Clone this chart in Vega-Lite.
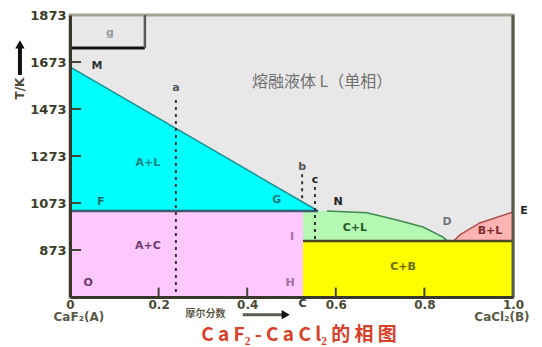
{
  "$schema": "https://vega.github.io/schema/vega-lite/v6.json",
  "width": 443,
  "height": 282,
  "autosize": {"type": "none"},
  "padding": {"left": 70, "top": 15, "right": 29, "bottom": 50},
  "background": "white",
  "config": {
    "view": {"fill": "#e8e8e8", "stroke": "#a3a38f", "strokeWidth": 3},
    "font": "DejaVu Sans"
  },
  "datasets": {
    "blocks": [
      {"region": "A+C", "x0": 0, "x1": 0.526, "t0": 673, "t1": 1039},
      {"region": "C+B", "x0": 0.526, "x1": 1, "t0": 673, "t1": 911}
    ],
    "curves": [
      {"region": "A+L", "x": 0, "top": 1652, "base": 1039},
      {"region": "A+L", "x": 0.56, "top": 1039, "base": 1039},
      {"region": "C+L", "x": 0.526, "top": 1039, "base": 911},
      {"region": "C+L", "x": 0.58, "top": 1039, "base": 911},
      {"region": "C+L", "x": 0.67, "top": 1031, "base": 911},
      {"region": "C+L", "x": 0.738, "top": 1001, "base": 911},
      {"region": "C+L", "x": 0.797, "top": 971, "base": 911},
      {"region": "C+L", "x": 0.842, "top": 928, "base": 911},
      {"region": "C+L", "x": 0.852, "top": 911, "base": 911},
      {"region": "B+L", "x": 0.866, "top": 911, "base": 911},
      {"region": "B+L", "x": 0.88, "top": 937, "base": 911},
      {"region": "B+L", "x": 0.925, "top": 988, "base": 911},
      {"region": "B+L", "x": 1, "top": 1035, "base": 911}
    ],
    "segments": [
      {"seg": "FGN", "x0": 0, "x1": 0.56, "t0": 1039, "t1": 1039},
      {"seg": "Dline", "x0": 0.526, "x1": 1, "t0": 911, "t1": 911},
      {"seg": "a", "x0": 0.239, "x1": 0.239, "t0": 1511, "t1": 673},
      {"seg": "b", "x0": 0.524, "x1": 0.524, "t0": 1195, "t1": 1080},
      {"seg": "c", "x0": 0.553, "x1": 0.553, "t0": 1141, "t1": 911},
      {"seg": "boxBottom", "x0": 0, "x1": 0.169, "t0": 1733, "t1": 1733},
      {"seg": "boxRight", "x0": 0.169, "x1": 0.169, "t0": 1733, "t1": 1873},
      {"seg": "right", "x0": 1, "x1": 1, "t0": 673, "t1": 1873},
      {"seg": "xArrow", "x0": 0.39, "x1": 0.48, "t0": 598, "t1": 598},
      {"seg": "yArrow", "x0": -0.113, "x1": -0.113, "t0": 1618, "t1": 1740},
      {"seg": "tick", "x0": 0.2, "x1": 0.2, "t0": 673, "t1": 713},
      {"seg": "tick", "x0": 0.4, "x1": 0.4, "t0": 673, "t1": 713},
      {"seg": "tick", "x0": 0.6, "x1": 0.6, "t0": 673, "t1": 713},
      {"seg": "tick", "x0": 0.8, "x1": 0.8, "t0": 673, "t1": 713},
      {"seg": "tick", "x0": 0, "x1": 0.025, "t0": 873, "t1": 873},
      {"seg": "tick", "x0": 0, "x1": 0.025, "t0": 1073, "t1": 1073},
      {"seg": "tick", "x0": 0, "x1": 0.025, "t0": 1273, "t1": 1273},
      {"seg": "tick", "x0": 0, "x1": 0.025, "t0": 1473, "t1": 1473},
      {"seg": "tick", "x0": 0, "x1": 0.025, "t0": 1673, "t1": 1673}
    ],
    "heads": [
      {"dir": "right", "x": 0.487, "t": 598},
      {"dir": "up", "x": -0.113, "t": 1748}
    ],
    "labels": [
      {"text": "M", "x": 0.061, "t": 1656},
      {"text": "A+L", "x": 0.176, "t": 1243},
      {"text": "F", "x": 0.07, "t": 1077},
      {"text": "G", "x": 0.467, "t": 1086},
      {"text": "N", "x": 0.605, "t": 1077},
      {"text": "a", "x": 0.239, "t": 1562},
      {"text": "b", "x": 0.524, "t": 1226},
      {"text": "c", "x": 0.553, "t": 1171},
      {"text": "A+C", "x": 0.176, "t": 890},
      {"text": "O", "x": 0.041, "t": 733},
      {"text": "I", "x": 0.501, "t": 928},
      {"text": "H", "x": 0.497, "t": 733},
      {"text": "C+L", "x": 0.643, "t": 967},
      {"text": "C+B", "x": 0.752, "t": 801},
      {"text": "D", "x": 0.851, "t": 992},
      {"text": "B+L", "x": 0.948, "t": 954},
      {"text": "E", "x": 1.025, "t": 1039},
      {"text": "g", "x": 0.09, "t": 1796},
      {"text": "C", "x": 0.525, "t": 645}
    ],
    "captions": [
      {"text": "CaF₂(A)", "x": 0.02, "t": 588},
      {"text": "CaCl₂(B)", "x": 0.975, "t": 588}
    ]
  },
  "resolve": {"scale": {"color": "independent"}},
  "layer": [
    {
      "data": {"name": "blocks"},
      "mark": {"type": "rect"},
      "encoding": {
        "x": {"field": "x0", "type": "quantitative",
          "scale": {"domain": [0, 1], "nice": false, "zero": false},
          "axis": {
            "values": [0, 0.2, 0.4, 0.6, 0.8, 1],
            "labelExpr": "datum.value == 0 ? '0' : format(datum.value, '.1f')",
            "title": null, "grid": false, "zindex": 1, "ticks": false,
            "domainColor": "#38382c", "domainWidth": 3,
            "labelPadding": 2, "labelFontSize": 12, "labelFontWeight": "bold",
            "labelColor": "#4a4a36", "labelFlush": false
          }},
        "x2": {"field": "x1"},
        "y": {"field": "t0", "type": "quantitative",
          "scale": {"domain": [673, 1873], "nice": false, "zero": false},
          "axis": {
            "values": [873, 1073, 1273, 1473, 1673, 1873],
            "format": "d",
            "title": null, "grid": false, "zindex": 1, "ticks": false,
            "domainColor": "#38382c", "domainWidth": 3,
            "labelPadding": 4, "labelFontSize": 13, "labelFontWeight": "bold",
            "labelColor": "#3b3b28", "labelFlush": false
          }},
        "y2": {"field": "t1"},
        "color": {"field": "region", "type": "nominal", "legend": null,
          "scale": {"domain": ["A+C", "C+B"], "range": ["#ffc8ff", "#ffff00"]}}
      }
    },
    {
      "data": {"name": "curves"},
      "mark": {"type": "area", "interpolate": "linear"},
      "encoding": {
        "x": {"field": "x", "type": "quantitative"},
        "y": {"field": "top", "type": "quantitative", "stack": null},
        "y2": {"field": "base"},
        "color": {"field": "region", "type": "nominal", "legend": null,
          "scale": {"domain": ["A+L", "C+L", "B+L"], "range": ["#00ffff", "#b4f8b4", "#ffb4b4"]}}
      }
    },
    {
      "data": {"name": "curves"},
      "transform": [{"filter": "datum.region == 'A+L'"}],
      "mark": {"type": "line", "color": "#1f8f8f", "strokeWidth": 1.5},
      "encoding": {
        "x": {"field": "x", "type": "quantitative"},
        "y": {"field": "top", "type": "quantitative"}
      }
    },
    {
      "data": {"name": "curves"},
      "transform": [{"filter": "datum.region == 'C+L' && datum.x > 0.55"}],
      "mark": {"type": "line", "color": "#3f8a4f", "strokeWidth": 1.5},
      "encoding": {
        "x": {"field": "x", "type": "quantitative"},
        "y": {"field": "top", "type": "quantitative"}
      }
    },
    {
      "data": {"name": "curves"},
      "transform": [{"filter": "datum.region == 'B+L'"}],
      "mark": {"type": "line", "color": "#b05050", "strokeWidth": 1.5},
      "encoding": {
        "x": {"field": "x", "type": "quantitative"},
        "y": {"field": "top", "type": "quantitative"}
      }
    },
    {
      "data": {"name": "segments"},
      "transform": [{"filter": "datum.seg == 'FGN'"}],
      "mark": {"type": "rule", "color": "#3c5a70", "strokeWidth": 2.5},
      "encoding": {
        "x": {"field": "x0", "type": "quantitative"}, "x2": {"field": "x1"},
        "y": {"field": "t0", "type": "quantitative"}, "y2": {"field": "t1"}
      }
    },
    {
      "data": {"name": "segments"},
      "transform": [{"filter": "datum.seg == 'Dline'"}],
      "mark": {"type": "rule", "color": "#4a4628", "strokeWidth": 2.5},
      "encoding": {
        "x": {"field": "x0", "type": "quantitative"}, "x2": {"field": "x1"},
        "y": {"field": "t0", "type": "quantitative"}, "y2": {"field": "t1"}
      }
    },
    {
      "data": {"name": "segments"},
      "transform": [{"filter": "datum.seg == 'tick'"}],
      "mark": {"type": "rule", "color": "#44443a", "strokeWidth": 2},
      "encoding": {
        "x": {"field": "x0", "type": "quantitative"}, "x2": {"field": "x1"},
        "y": {"field": "t0", "type": "quantitative"}, "y2": {"field": "t1"}
      }
    },
    {
      "data": {"name": "segments"},
      "transform": [{"filter": "datum.seg == 'a' || datum.seg == 'b' || datum.seg == 'c'"}],
      "mark": {"type": "rule", "color": "#333333", "strokeWidth": 2, "strokeDash": [3, 4]},
      "encoding": {
        "x": {"field": "x0", "type": "quantitative"}, "x2": {"field": "x1"},
        "y": {"field": "t0", "type": "quantitative"}, "y2": {"field": "t1"}
      }
    },
    {
      "data": {"name": "segments"},
      "transform": [{"filter": "datum.seg == 'boxBottom'"}],
      "mark": {"type": "rule", "color": "#151515", "strokeWidth": 3},
      "encoding": {
        "x": {"field": "x0", "type": "quantitative"}, "x2": {"field": "x1"},
        "y": {"field": "t0", "type": "quantitative"}, "y2": {"field": "t1"}
      }
    },
    {
      "data": {"name": "segments"},
      "transform": [{"filter": "datum.seg == 'boxRight'"}],
      "mark": {"type": "rule", "color": "#5a5a5a", "strokeWidth": 2.5},
      "encoding": {
        "x": {"field": "x0", "type": "quantitative"}, "x2": {"field": "x1"},
        "y": {"field": "t0", "type": "quantitative"}, "y2": {"field": "t1"}
      }
    },
    {
      "data": {"name": "segments"},
      "transform": [{"filter": "datum.seg == 'right'"}],
      "mark": {"type": "rule", "color": "#5a5a4a", "strokeWidth": 3},
      "encoding": {
        "x": {"field": "x0", "type": "quantitative"}, "x2": {"field": "x1"},
        "y": {"field": "t0", "type": "quantitative"}, "y2": {"field": "t1"}
      }
    },
    {
      "data": {"name": "segments"},
      "transform": [{"filter": "datum.seg == 'xArrow'"}],
      "mark": {"type": "rule", "color": "#5c5c50", "strokeWidth": 3, "clip": false},
      "encoding": {
        "x": {"field": "x0", "type": "quantitative"}, "x2": {"field": "x1"},
        "y": {"field": "t0", "type": "quantitative"}, "y2": {"field": "t1"}
      }
    },
    {
      "data": {"name": "segments"},
      "transform": [{"filter": "datum.seg == 'yArrow'"}],
      "mark": {"type": "rule", "color": "#111111", "strokeWidth": 4, "clip": false},
      "encoding": {
        "x": {"field": "x0", "type": "quantitative"}, "x2": {"field": "x1"},
        "y": {"field": "t0", "type": "quantitative"}, "y2": {"field": "t1"}
      }
    },
    {
      "data": {"name": "heads"},
      "mark": {"type": "point", "filled": true, "color": "#111111", "opacity": 1, "size": 90, "clip": false},
      "encoding": {
        "x": {"field": "x", "type": "quantitative"},
        "y": {"field": "t", "type": "quantitative"},
        "shape": {"field": "dir", "type": "nominal", "legend": null,
          "scale": {"domain": ["right", "up"], "range": ["triangle-right", "triangle-up"]}}
      }
    },
    {
      "data": {"name": "labels"},
      "mark": {"type": "text", "fontSize": 11, "fontWeight": "bold", "clip": false},
      "encoding": {
        "x": {"field": "x", "type": "quantitative"},
        "y": {"field": "t", "type": "quantitative"},
        "text": {"field": "text"},
        "color": {"field": "text", "type": "nominal", "legend": null,
          "scale": {
            "domain": ["M", "A+L", "F", "G", "N", "a", "b", "c", "A+C", "O", "I", "H", "C+L", "C+B", "D", "B+L", "E", "g", "C"],
            "range": ["#333333", "#178080", "#1a6a6a", "#1a7a7a", "#222222", "#555555", "#555555", "#222222", "#6a3a6a", "#6a3a6a", "#a070a0", "#a070a0", "#2a5a2a", "#6a6a00", "#777777", "#7a2a2a", "#222222", "#999999", "#333333"]
          }}
      }
    },
    {
      "data": {"values": [{"text": "熔融液体 L（单相）", "x": 0.569, "t": 1588}]},
      "mark": {"type": "text", "fontSize": 16, "font": "Noto Sans CJK SC", "color": "#707070"},
      "encoding": {
        "x": {"field": "x", "type": "quantitative"},
        "y": {"field": "t", "type": "quantitative"},
        "text": {"field": "text"}
      }
    },
    {
      "data": {"name": "captions"},
      "mark": {"type": "text", "fontSize": 12, "fontWeight": "bold", "color": "#5a5a48", "clip": false},
      "encoding": {
        "x": {"field": "x", "type": "quantitative"},
        "y": {"field": "t", "type": "quantitative"},
        "text": {"field": "text"}
      }
    },
    {
      "data": {"values": [{"text": "摩尔分数", "x": 0.306, "t": 600}]},
      "mark": {"type": "text", "fontSize": 10, "fontWeight": "bold", "font": "Noto Sans CJK SC", "color": "#5a5a48", "clip": false},
      "encoding": {
        "x": {"field": "x", "type": "quantitative"},
        "y": {"field": "t", "type": "quantitative"},
        "text": {"field": "text"}
      }
    },
    {
      "data": {"values": [{"text": "T/K", "x": -0.113, "t": 1560}]},
      "mark": {"type": "text", "fontSize": 12, "fontWeight": "bold", "angle": 270, "color": "#4a4a36", "clip": false},
      "encoding": {
        "x": {"field": "x", "type": "quantitative"},
        "y": {"field": "t", "type": "quantitative"},
        "text": {"field": "text"}
      }
    },
    {
      "data": {"values": [{"text": "C a F₂ - C a C l₂  的   相   图", "x": 0.517, "t": 512}]},
      "mark": {"type": "text", "fontSize": 19, "fontWeight": "bold", "font": "Noto Sans CJK SC", "color": "#d8402a", "clip": false},
      "encoding": {
        "x": {"field": "x", "type": "quantitative"},
        "y": {"field": "t", "type": "quantitative"},
        "text": {"field": "text"}
      }
    }
  ]
}
